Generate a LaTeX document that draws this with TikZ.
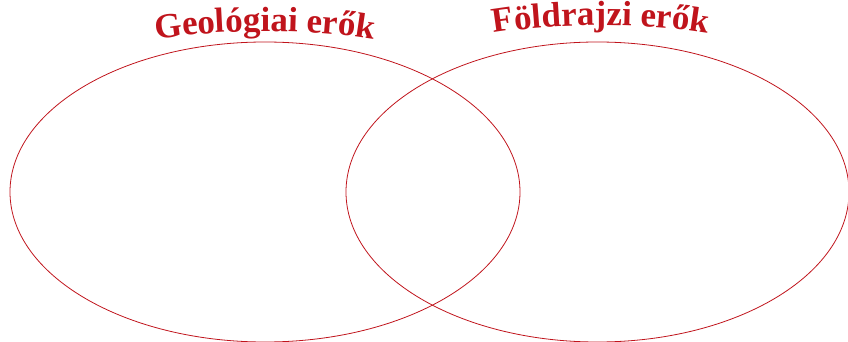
\documentclass[tikz,border=0pt]{standalone}
\usepackage{fontspec}
\setmainfont{Liberation Serif}
\usetikzlibrary{decorations.text,shapes.geometric}
\definecolor{vred}{HTML}{C0141C}
\tikzset{
  venn/.style={draw=vred, line width=0.8pt, ellipse, inner sep=0pt},
  arctitle/.style={decorate, decoration={text along path, text align=center,
     text color=vred, text={|\bfseries\fontsize{35}{40}\selectfont|#1}}}
}
\begin{document}
\begin{tikzpicture}[x=1pt,y=-1pt]
\useasboundingbox (0,0) rectangle (848,342);
\node[venn, minimum width=510pt, minimum height=300pt] (geo) at (265,192) {};
\node[venn, minimum width=503pt, minimum height=300pt] (fold) at (597.5,192) {};
\path[arctitle={Geológiai erők}] (115,51.5) .. controls (165,24.8) and (365,24.8) .. (415,51.5);
\path[arctitle={Földrajzi erők}] (451,45.5) .. controls (501,18.8) and (701,18.8) .. (751,45.5);
\end{tikzpicture}
\end{document}
